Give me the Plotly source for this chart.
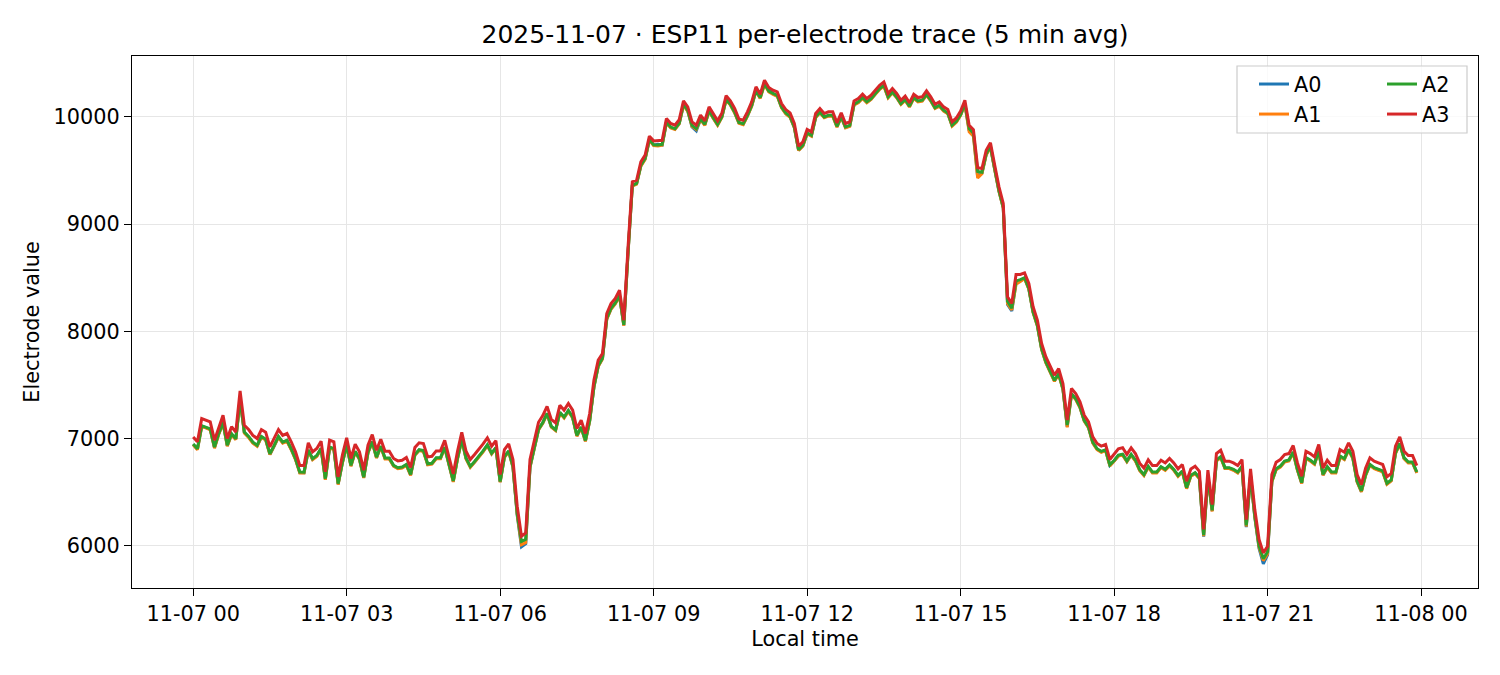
import pandas as pd
import plotly.graph_objects as go

# 5 min averages, 2025-11-07 00:00 .. 23:55
times = pd.date_range("2025-11-07 00:00", periods=288, freq="5min")

a0 = [
    6946, 6900, 7116, 7104, 7086, 6916, 7044, 7146, 6934, 7040, 6994, 7366,
    7056, 7015, 6962, 6932, 7016, 6990, 6854, 6930, 7016, 6962, 6980, 6900,
    6808, 6683, 6682, 6890, 6808, 6838, 6906, 6620, 6916, 6902, 6575, 6776,
    6938, 6746, 6878, 6808, 6636, 6870, 6968, 6822, 6926, 6814, 6814, 6746,
    6724, 6730, 6754, 6660, 6848, 6892, 6884, 6760, 6766, 6816, 6816, 6916,
    6752, 6600, 6814, 6990, 6814, 6736, 6782, 6828, 6881, 6938, 6860, 6912,
    6596, 6828, 6881, 6736, 6285, 5990, 6020, 6734, 6906, 7084, 7146, 7232,
    7110, 7078, 7242, 7196, 7258, 7196, 7026, 7104, 6978, 7166, 7482, 7676,
    7746, 8116, 8210, 8260, 8330, 8056, 8735, 9358, 9376, 9544, 9608, 9786,
    9736, 9745, 9738, 9948, 9900, 9886, 9938, 10112, 10056, 9905, 9870, 9978,
    9925, 10056, 9988, 9926, 9998, 10162, 10114, 10040, 9944, 9932, 10010, 10104,
    10244, 10176, 10330, 10265, 10214, 10196, 10088, 10032, 10000, 9902, 9690, 9731,
    9846, 9824, 9996, 10042, 9996, 10010, 10010, 9908, 10000, 9902, 9916, 10114,
    10136, 10176, 10136, 10166, 10214, 10260, 10290, 10182, 10228, 10182, 10120, 10158,
    10096, 10176, 10144, 10151, 10206, 10151, 10082, 10104, 10058, 10032, 9918, 9954,
    10018, 10120, 9875, 9835, 9440, 9475, 9650, 9720, 9510, 9306, 9152, 8250,
    8190, 8450, 8470, 8496, 8396, 8178, 8054, 7834, 7710, 7616, 7538, 7601,
    7462, 7110, 7414, 7368, 7291, 7166, 7104, 6962, 6901, 6876, 6891, 6750,
    6790, 6840, 6850, 6787, 6848, 6795, 6705, 6659, 6737, 6683, 6683, 6733,
    6708, 6749, 6708, 6652, 6693, 6537, 6652, 6677, 6630, 6085, 6640, 6325,
    6795, 6826, 6724, 6724, 6708, 6683, 6739, 6175, 6652, 6265, 5975, 5832,
    5915, 6599, 6714, 6739, 6786, 6795, 6870, 6708, 6584, 6817, 6795, 6764,
    6879, 6661, 6733, 6683, 6683, 6832, 6808, 6895, 6817, 6599, 6506, 6661,
    6755, 6724, 6708, 6693, 6578, 6609, 6864, 6951, 6817, 6776, 6776, 6683,
]

a1 = [
    6942, 6895, 7110, 7100, 7082, 6910, 7040, 7142, 6928, 7035, 6990, 7362,
    7052, 7010, 6958, 6928, 7012, 6986, 6850, 6926, 7012, 6958, 6975, 6896,
    6804, 6678, 6678, 6886, 6804, 6834, 6902, 6616, 6912, 6898, 6570, 6772,
    6934, 6742, 6874, 6804, 6632, 6866, 6964, 6818, 6922, 6810, 6810, 6742,
    6720, 6726, 6750, 6656, 6844, 6888, 6880, 6756, 6762, 6812, 6812, 6912,
    6748, 6596, 6810, 6986, 6810, 6732, 6778, 6824, 6877, 6934, 6856, 6908,
    6592, 6824, 6877, 6732, 6290, 6010, 6030, 6730, 6902, 7080, 7142, 7228,
    7106, 7074, 7238, 7192, 7254, 7192, 7022, 7100, 6974, 7162, 7478, 7672,
    7742, 8112, 8206, 8256, 8326, 8052, 8730, 9355, 9372, 9540, 9604, 9782,
    9732, 9728, 9735, 9944, 9896, 9882, 9934, 10110, 10052, 9912, 9882, 9974,
    9920, 10052, 9984, 9922, 9994, 10158, 10110, 10036, 9940, 9928, 10006, 10100,
    10240, 10172, 10302, 10232, 10210, 10192, 10084, 10028, 9996, 9898, 9686, 9727,
    9842, 9820, 9992, 10038, 9992, 10006, 10006, 9904, 9996, 9898, 9912, 10110,
    10132, 10172, 10132, 10162, 10210, 10256, 10286, 10178, 10224, 10178, 10116, 10154,
    10092, 10172, 10140, 10147, 10202, 10147, 10078, 10100, 10054, 10028, 9914, 9950,
    10014, 10116, 9860, 9820, 9430, 9470, 9645, 9716, 9505, 9302, 9148, 8260,
    8200, 8440, 8465, 8492, 8392, 8174, 8050, 7830, 7706, 7612, 7534, 7597,
    7458, 7105, 7410, 7364, 7287, 7162, 7100, 6958, 6897, 6872, 6887, 6745,
    6786, 6836, 6846, 6783, 6844, 6791, 6701, 6655, 6733, 6679, 6679, 6729,
    6704, 6745, 6704, 6648, 6689, 6533, 6648, 6673, 6626, 6090, 6636, 6320,
    6791, 6822, 6720, 6720, 6704, 6679, 6735, 6180, 6648, 6270, 5985, 5862,
    5925, 6595, 6710, 6735, 6782, 6791, 6866, 6704, 6580, 6813, 6791, 6760,
    6875, 6657, 6729, 6679, 6679, 6828, 6804, 6891, 6813, 6595, 6502, 6657,
    6751, 6720, 6704, 6689, 6574, 6605, 6860, 6947, 6813, 6772, 6772, 6679,
]

a2 = [
    6950, 6905, 7120, 7108, 7090, 6920, 7048, 7150, 6938, 7045, 6998, 7370,
    7060, 7020, 6966, 6938, 7020, 6995, 6858, 6936, 7020, 6966, 6984, 6905,
    6812, 6688, 6686, 6895, 6812, 6842, 6910, 6626, 6920, 6906, 6580, 6780,
    6942, 6750, 6882, 6812, 6640, 6874, 6972, 6826, 6930, 6818, 6818, 6750,
    6728, 6734, 6758, 6665, 6852, 6896, 6888, 6765, 6770, 6820, 6820, 6920,
    6756, 6605, 6818, 6994, 6818, 6740, 6786, 6832, 6885, 6942, 6864, 6916,
    6600, 6832, 6885, 6740, 6300, 6040, 6060, 6740, 6910, 7088, 7150, 7236,
    7114, 7082, 7246, 7200, 7262, 7200, 7030, 7108, 6982, 7170, 7485, 7680,
    7750, 8120, 8215, 8265, 8335, 8060, 8740, 9362, 9380, 9548, 9612, 9790,
    9740, 9738, 9744, 9952, 9905, 9890, 9942, 10118, 10060, 9920, 9890, 9982,
    9930, 10060, 9992, 9930, 10002, 10165, 10118, 10045, 9948, 9936, 10014, 10108,
    10248, 10180, 10310, 10240, 10218, 10200, 10092, 10036, 10005, 9906, 9694, 9735,
    9850, 9828, 10000, 10046, 10000, 10015, 10015, 9912, 10005, 9906, 9920, 10118,
    10140, 10180, 10140, 10170, 10218, 10264, 10295, 10186, 10232, 10186, 10124, 10162,
    10100, 10180, 10148, 10155, 10210, 10155, 10086, 10108, 10062, 10036, 9922, 9958,
    10022, 10124, 9890, 9848, 9490, 9484, 9655, 9725, 9515, 9312, 9158, 8280,
    8215, 8470, 8482, 8500, 8400, 8182, 8058, 7838, 7714, 7620, 7542, 7605,
    7466, 7125, 7418, 7372, 7295, 7170, 7108, 6966, 6905, 6880, 6895, 6755,
    6795, 6845, 6855, 6792, 6853, 6800, 6710, 6664, 6742, 6688, 6688, 6738,
    6713, 6754, 6713, 6657, 6698, 6542, 6657, 6682, 6635, 6100, 6645, 6330,
    6800, 6831, 6729, 6729, 6713, 6688, 6744, 6190, 6657, 6280, 6000, 5880,
    5945, 6604, 6719, 6744, 6791, 6800, 6875, 6713, 6589, 6822, 6800, 6769,
    6884, 6666, 6738, 6688, 6688, 6837, 6813, 6900, 6822, 6604, 6511, 6666,
    6760, 6729, 6713, 6698, 6583, 6614, 6869, 6956, 6822, 6781, 6781, 6688,
]

a3 = [
    7015, 6970, 7186, 7170, 7155, 6985, 7110, 7218, 7000, 7110, 7060, 7444,
    7124, 7084, 7030, 7000, 7084, 7060, 6922, 7000, 7084, 7030, 7047, 6970,
    6876, 6750, 6750, 6960, 6876, 6907, 6975, 6690, 6985, 6970, 6643, 6845,
    7006, 6814, 6947, 6876, 6705, 6938, 7037, 6891, 6994, 6882, 6882, 6814,
    6792, 6798, 6823, 6730, 6916, 6960, 6953, 6829, 6835, 6885, 6885, 6984,
    6820, 6670, 6882, 7059, 6882, 6804, 6851, 6897, 6950, 7006, 6929, 6981,
    6664, 6897, 6950, 6804, 6369, 6089, 6120, 6804, 6975, 7152, 7214, 7300,
    7178, 7146, 7310, 7265, 7327, 7265, 7094, 7172, 7047, 7234, 7545, 7731,
    7793, 8166, 8259, 8306, 8384, 8104, 8788, 9394, 9409, 9580, 9643, 9820,
    9776, 9776, 9782, 9984, 9938, 9922, 9975, 10149, 10093, 9953, 9922, 10016,
    9963, 10093, 10025, 9963, 10035, 10198, 10150, 10078, 9980, 9969, 10047, 10140,
    10280, 10211, 10342, 10274, 10249, 10233, 10124, 10068, 10037, 9938, 9726, 9767,
    9882, 9860, 10031, 10078, 10031, 10047, 10047, 9944, 10037, 9938, 9953, 10149,
    10171, 10211, 10171, 10202, 10249, 10295, 10326, 10218, 10264, 10218, 10155, 10193,
    10131, 10211, 10180, 10187, 10242, 10187, 10118, 10140, 10093, 10068, 9953, 9990,
    10055, 10155, 9922, 9880, 9525, 9518, 9689, 9758, 9549, 9347, 9192, 8322,
    8260, 8530, 8530, 8545, 8446, 8229, 8104, 7886, 7762, 7669, 7591, 7653,
    7514, 7172, 7467, 7420, 7343, 7218, 7156, 7016, 6954, 6930, 6945, 6805,
    6855, 6905, 6915, 6852, 6913, 6860, 6770, 6724, 6802, 6748, 6748, 6798,
    6773, 6814, 6773, 6717, 6758, 6602, 6717, 6742, 6695, 6152, 6705, 6385,
    6860, 6891, 6789, 6789, 6773, 6748, 6804, 6245, 6717, 6338, 6058, 5934,
    5996, 6664, 6779, 6804, 6851, 6860, 6935, 6773, 6649, 6882, 6860, 6829,
    6944, 6726, 6798, 6748, 6748, 6897, 6873, 6960, 6882, 6664, 6571, 6726,
    6820, 6789, 6773, 6758, 6643, 6674, 6929, 7016, 6882, 6841, 6841, 6748,
]

series = [
    ("A0", a0, "#1f77b4", "legend", 1),
    ("A1", a1, "#ff7f0e", "legend", 2),
    ("A2", a2, "#2ca02c", "legend2", 3),
    ("A3", a3, "#d62728", "legend2", 4),
]

fig = go.Figure()
for name, vals, color, leg, rank in series:
    fig.add_trace(go.Scatter(
        x=times, y=vals, mode="lines", name=name,
        line=dict(color=color, width=3),
        legend=leg, legendrank=rank,
    ))

# matplotlib-style 5% padding around the data
span = times[-1] - times[0]
xr = [times[0] - 0.05 * span, times[-1] + 0.05 * span]
allv = a0 + a1 + a2 + a3
lo, hi = min(allv), max(allv)
yr = [lo - 0.05 * (hi - lo), hi + 0.05 * (hi - lo)]

font = dict(family="DejaVu Sans", size=20.8, color="black")
axis_common = dict(
    showline=True, linecolor="black", linewidth=1.4, mirror=True,
    ticks="outside", ticklen=7, tickwidth=1.4, tickcolor="black",
    showgrid=True, gridcolor="#e6e6e6", gridwidth=1.2, zeroline=False,
    tickfont=font,
)

fig.update_layout(
    width=1500, height=675,
    margin=dict(l=132, r=22, t=56, b=87),
    paper_bgcolor="white", plot_bgcolor="white",
    font=font,
    title=dict(text="2025-11-07 · ESP11 per-electrode trace (5 min avg)",
               x=(805 / 1500), xanchor="center", y=1 - 34 / 675, yanchor="middle",
               font=dict(family="DejaVu Sans", size=25, color="black")),
    xaxis=dict(axis_common, type="date", range=xr,
               tick0="2025-11-07 00:00", dtick=3 * 3600 * 1000,
               tickformat="%m-%d %H",
               title=dict(text="Local time", font=font, standoff=6)),
    yaxis=dict(axis_common, range=yr, dtick=1000, tick0=0, tickformat="d",
               title=dict(text="Electrode value", font=font, standoff=8)),
    legend=dict(x=(1254 - 132) / 1346, y=(588 - 64) / 532, xanchor="left", yanchor="top",
                bgcolor="rgba(0,0,0,0)", borderwidth=0, font=font, tracegroupgap=0),
    legend2=dict(x=(1382 - 132) / 1346, y=(588 - 64) / 532, xanchor="left", yanchor="top",
                 bgcolor="rgba(0,0,0,0)", borderwidth=0, font=font, tracegroupgap=0),
    shapes=[dict(type="rect", xref="paper", yref="paper", layer="above",
                 x0=(1237 - 132) / 1346, x1=(1467 - 132) / 1346,
                 y0=(588 - 133) / 532, y1=(588 - 66) / 532,
                 fillcolor="rgba(255,255,255,0.8)", line=dict(color="#cccccc", width=1.2))],
)

fig.write_html("out.html", config={"displayModeBar": False},
               post_script="document.body.style.margin='0';")
